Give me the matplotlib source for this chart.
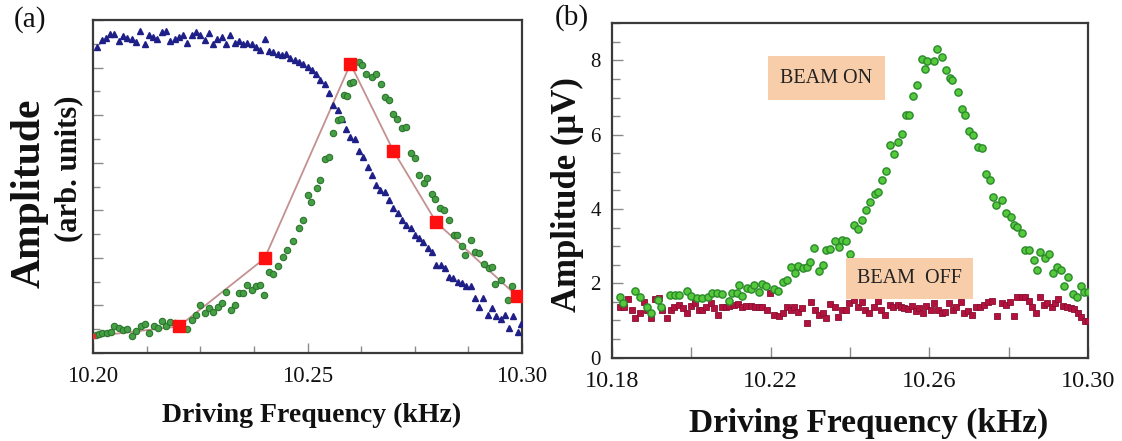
import matplotlib
matplotlib.use('Agg')
import matplotlib.pyplot as plt
from matplotlib.ticker import FixedLocator, FixedFormatter, MultipleLocator

plt.rcParams['font.family'] = ['Liberation Serif', 'DejaVu Serif']

# ---------------- Panel (a) data ----------------
a_blue_x = [10.201, 10.202, 10.203, 10.204, 10.205, 10.206, 10.207, 10.208, 10.209, 10.210,
            10.211, 10.212, 10.213, 10.214, 10.215, 10.216, 10.217, 10.218, 10.219, 10.220,
            10.221, 10.222, 10.223, 10.224, 10.225, 10.226, 10.227, 10.228, 10.229, 10.230,
            10.231, 10.232, 10.233, 10.234, 10.235, 10.236, 10.237, 10.238, 10.239, 10.240,
            10.241, 10.242, 10.243, 10.244, 10.245, 10.246, 10.247, 10.248, 10.249, 10.250,
            10.251, 10.252, 10.253, 10.254, 10.255, 10.256, 10.257, 10.258, 10.259, 10.260,
            10.261, 10.262, 10.263, 10.264, 10.265, 10.266, 10.267, 10.268, 10.269, 10.270,
            10.271, 10.272, 10.273, 10.274, 10.275, 10.276, 10.277, 10.278, 10.279, 10.280,
            10.281, 10.282, 10.283, 10.284, 10.285, 10.286, 10.287, 10.288, 10.289, 10.290,
            10.291, 10.292, 10.293, 10.294, 10.295, 10.296, 10.297, 10.298, 10.299, 10.2998]
a_blue_y = [6.43, 6.59, 6.63, 6.71, 6.71, 6.57, 6.66, 6.63, 6.61, 6.54,
            6.78, 6.50, 6.68, 6.64, 6.61, 6.75, 6.78, 6.57, 6.61, 6.64,
            6.68, 6.52, 6.68, 6.75, 6.68, 6.59, 6.73, 6.50, 6.61, 6.64,
            6.50, 6.68, 6.52, 6.57, 6.50, 6.52, 6.49, 6.43, 6.38, 6.61,
            6.36, 6.33, 6.29, 6.27, 6.29, 6.21, 6.15, 6.12, 6.08, 6.01,
            5.94, 5.86, 5.75, 5.65, 5.47, 5.21, 5.10, 4.93, 4.72, 4.55,
            4.51, 4.25, 4.13, 3.92, 3.74, 3.53, 3.43, 3.39, 3.22, 3.04,
            2.94, 2.80, 2.69, 2.62, 2.48, 2.41, 2.34, 2.20, 2.13, 1.85,
            1.85, 1.78, 1.59, 1.57, 1.50, 1.47, 1.40, 1.40, 1.15, 0.97,
            1.15, 0.80, 0.94, 0.77, 0.71, 0.80, 0.52, 0.77, 0.45, 0.62]

a_green_x = [10.2006, 10.2014, 10.2022, 10.2033, 10.2043, 10.2050, 10.2060, 10.2070, 10.2079, 10.2092,
             10.2101, 10.2113, 10.2120, 10.2130, 10.2141, 10.2151, 10.2161, 10.2171, 10.2180, 10.2190,
             10.2219, 10.2231, 10.2240, 10.2250, 10.2260, 10.2271, 10.2279, 10.2291, 10.2301, 10.2310,
             10.2322, 10.2330, 10.2341, 10.2350, 10.2360, 10.2371, 10.2380, 10.2389, 10.2399, 10.2411,
             10.2420, 10.2430, 10.2442, 10.2451, 10.2465, 10.2479, 10.2490, 10.2500, 10.2509, 10.2521,
             10.2529, 10.2541, 10.2550, 10.2560, 10.2570, 10.2578, 10.2585, 10.2591, 10.2598, 10.2606,
             10.2619, 10.2626, 10.2637, 10.2650, 10.2659, 10.2671, 10.2681, 10.2690, 10.2700, 10.2709,
             10.2719, 10.2729, 10.2740, 10.2750, 10.2760, 10.2771, 10.2779, 10.2789, 10.2798, 10.2808,
             10.2819, 10.2829, 10.2841, 10.2849, 10.2860, 10.2868, 10.2880, 10.2890, 10.2899, 10.2911,
             10.2922, 10.2930, 10.2938, 10.2950, 10.2967, 10.2977]
a_green_y = [0.38, 0.40, 0.42, 0.43, 0.44, 0.56, 0.52, 0.49, 0.50, 0.36,
             0.47, 0.56, 0.61, 0.43, 0.57, 0.52, 0.68, 0.57, 0.66, 0.64,
             0.50, 0.70, 0.80, 1.01, 0.85, 0.94, 0.87, 0.96, 1.05, 1.29,
             0.91, 1.01, 1.26, 1.26, 1.43, 1.33, 1.40, 1.43, 1.22, 1.71,
             1.66, 1.82, 2.01, 2.17, 2.36, 2.62, 2.80, 3.32, 3.18, 3.46,
             3.64, 4.07, 4.13, 4.62, 4.90, 4.93, 5.42, 5.40, 5.68, 5.70,
             6.12, 6.05, 5.87, 5.80, 5.87, 5.66, 5.38, 5.31, 5.03, 4.93,
             4.74, 4.76, 4.21, 4.11, 3.74, 3.57, 3.69, 3.34, 3.23, 3.04,
             3.01, 2.80, 2.48, 2.48, 2.25, 2.06, 2.38, 2.13, 2.10, 1.87,
             1.78, 1.80, 1.45, 1.54, 1.12, 1.41]

a_red_x = [10.200, 10.220, 10.240, 10.260, 10.270, 10.280, 10.2988]
a_red_y = [0.35, 0.56, 1.99, 6.08, 4.25, 2.75, 1.20]

# ---------------- Panel (b) data ----------------
b_on_x = [10.1819, 10.1827, 10.1859, 10.1870, 10.1887, 10.1897, 10.1916, 10.1923, 10.1947, 10.1959,
          10.1970, 10.1990, 10.2000, 10.2013, 10.2026, 10.2041, 10.2051, 10.2064, 10.2077, 10.2094,
          10.2103, 10.2115, 10.2120, 10.2128, 10.2141, 10.2150, 10.2158, 10.2171, 10.2179, 10.2188,
          10.2209, 10.2218, 10.2231, 10.2241, 10.2250, 10.2261, 10.2269, 10.2282, 10.2291, 10.2299,
          10.2309, 10.2321, 10.2332, 10.2340, 10.2350, 10.2361, 10.2372, 10.2380, 10.2389, 10.2400,
          10.2409, 10.2419, 10.2429, 10.2440, 10.2451, 10.2463, 10.2470, 10.2481, 10.2491, 10.2500,
          10.2511, 10.2520, 10.2532, 10.2540, 10.2549, 10.2560, 10.2570, 10.2581, 10.2590, 10.2594,
          10.2611, 10.2620, 10.2631, 10.2641, 10.2651, 10.2658, 10.2671, 10.2682, 10.2691, 10.2701,
          10.2709, 10.2722, 10.2733, 10.2742, 10.2752, 10.2761, 10.2769, 10.2782, 10.2793, 10.2805,
          10.2814, 10.2822, 10.2833, 10.2842, 10.2850, 10.2863, 10.2872, 10.2880, 10.2891, 10.2902,
          10.2913, 10.2923, 10.2932, 10.2940, 10.2949, 10.2962, 10.2973, 10.2983, 10.2991, 10.3000]
b_on_y = [1.64, 1.48, 1.80, 1.64, 1.37, 1.21, 1.55, 1.35, 1.68, 1.68,
          1.68, 1.80, 1.66, 1.59, 1.59, 1.62, 1.75, 1.73, 1.71, 1.52,
          1.73, 1.75, 1.95, 1.66, 1.86, 1.84, 1.95, 1.77, 1.98, 1.93,
          1.84, 1.80, 2.04, 2.10, 2.44, 2.28, 2.46, 2.40, 2.44, 2.58,
          2.94, 2.34, 2.50, 2.89, 2.91, 3.13, 2.98, 3.16, 3.14, 2.78,
          3.56, 3.47, 3.70, 3.97, 4.19, 4.41, 4.46, 4.77, 5.02, 5.71,
          5.49, 5.80, 6.03, 6.52, 6.52, 7.05, 7.35, 8.04, 7.77, 7.99,
          7.98, 8.31, 8.08, 7.74, 7.53, 7.48, 7.14, 6.70, 6.52, 6.11,
          5.98, 5.68, 5.65, 4.93, 4.77, 4.32, 4.10, 4.23, 3.88, 3.79,
          3.56, 3.52, 3.34, 2.89, 2.89, 2.62, 2.37, 2.85, 2.67, 2.78,
          2.28, 2.43, 2.37, 1.92, 2.18, 1.71, 1.64, 1.92, 1.77, 1.77]

b_off_x = [10.1819, 10.1829, 10.1839, 10.1850, 10.1859, 10.1870, 10.1880, 10.1889, 10.1897, 10.1908,
           10.1919, 10.1927, 10.1938, 10.1949, 10.1957, 10.1968, 10.1979, 10.1990, 10.2000, 10.2010,
           10.2019, 10.2027, 10.2038, 10.2050, 10.2058, 10.2068, 10.2077, 10.2087, 10.2096, 10.2107,
           10.2118, 10.2128, 10.2138, 10.2150, 10.2161, 10.2171, 10.2179, 10.2190, 10.2198, 10.2209,
           10.2221, 10.2231, 10.2241, 10.2250, 10.2258, 10.2269, 10.2280, 10.2291, 10.2301, 10.2312,
           10.2321, 10.2332, 10.2340, 10.2350, 10.2361, 10.2369, 10.2380, 10.2389, 10.2397, 10.2409,
           10.2419, 10.2429, 10.2438, 10.2449, 10.2460, 10.2470, 10.2479, 10.2489, 10.2500, 10.2509,
           10.2520, 10.2528, 10.2537, 10.2545, 10.2556, 10.2566, 10.2574, 10.2583, 10.2591, 10.2603,
           10.2611, 10.2622, 10.2631, 10.2639, 10.2650, 10.2660, 10.2668, 10.2679, 10.2688, 10.2697,
           10.2708, 10.2718, 10.2728, 10.2739, 10.2748, 10.2759, 10.2771, 10.2782, 10.2793, 10.2803,
           10.2814, 10.2822, 10.2833, 10.2842, 10.2850, 10.2859, 10.2870, 10.2879, 10.2889, 10.2897,
           10.2908, 10.2916, 10.2925, 10.2936, 10.2947, 10.2956, 10.2964, 10.2974, 10.2983, 10.2993,
           10.3000]
b_off_y = [1.37, 1.37, 1.57, 1.28, 1.06, 1.21, 1.50, 1.28, 1.06, 1.57,
           1.59, 1.28, 1.06, 1.28, 1.37, 1.41, 1.32, 1.19, 1.39, 1.46,
           1.28, 1.28, 1.35, 1.46, 1.32, 1.15, 1.35, 1.37, 1.39, 1.41,
           1.44, 1.37, 1.39, 1.39, 1.37, 1.35, 1.37, 1.28, 1.73, 1.15,
           1.12, 1.21, 1.37, 1.28, 1.37, 1.23, 1.32, 0.92, 1.50, 1.28,
           1.15, 1.21, 1.06, 1.44, 1.35, 1.10, 1.28, 1.28, 1.48, 1.55,
           1.37, 1.50, 1.28, 1.19, 1.35, 1.53, 1.28, 1.15, 1.41, 1.35,
           1.41, 1.35, 1.32, 1.30, 1.39, 1.26, 1.32, 1.19, 1.39, 1.28,
           1.46, 1.28, 1.19, 1.23, 1.48, 1.28, 1.37, 1.50, 1.19, 1.26,
           1.15, 1.35, 1.37, 1.41, 1.50, 1.53, 1.12, 1.46, 1.41, 1.50,
           1.12, 1.62, 1.64, 1.64, 1.53, 1.35, 1.21, 1.64, 1.41, 1.46,
           1.35, 1.48, 1.57, 1.39, 1.35, 1.32, 1.30, 1.19, 1.10, 0.99,
           0.99]

a_xticks = [10.20, 10.25, 10.30]
a_xticklabels = ['10.20', '10.25', '10.30']
b_xticks = [10.18, 10.20, 10.22, 10.24, 10.26, 10.28, 10.30]
b_xticklabels = ['10.18', '', '10.22', '', '10.26', '', '10.30']
b_yticks = [0, 2, 4, 6, 8]

spine_c = '#3a3a3a'
tick_c = '#8a8a8a'

fig = plt.figure(figsize=(11.22, 4.41), dpi=100)

# ---------------- Panel (a) ----------------
axA = fig.add_axes([0.0829, 0.1995, 0.3824, 0.755])
axA.plot(a_red_x, a_red_y, color='#c49090', lw=1.3, zorder=2)
axA.plot(a_blue_x, a_blue_y, ls='none', marker='^', ms=3.8, color='#1f1f88', zorder=3)
axA.plot(a_green_x, a_green_y, ls='none', marker='o', ms=4.6, mfc='#45a045',
         mec='#2c742c', mew=0.8, zorder=3)
axA.plot(a_red_x[1:], a_red_y[1:], ls='none', marker='s', ms=9, color='#ff1010', zorder=4)
axA.plot(a_red_x[:1], a_red_y[:1], ls='none', marker='s', ms=3.5, color='#e03030', zorder=4)
axA.set_xlim(10.20, 10.30)
axA.set_ylim(0, 7)
axA.xaxis.set_major_locator(FixedLocator(a_xticks))
axA.xaxis.set_major_formatter(FixedFormatter(a_xticklabels))
axA.xaxis.set_minor_locator(MultipleLocator(0.0125))
axA.yaxis.set_major_locator(MultipleLocator(1))
axA.yaxis.set_minor_locator(MultipleLocator(0.5))
axA.set_yticklabels([])
axA.tick_params(which='both', direction='in', color=tick_c, width=1.0,
                top=False, right=False)
axA.tick_params(which='major', length=7)
axA.tick_params(which='minor', length=5)
axA.tick_params(axis='x', labelsize=16.5, pad=9, labelcolor='#111111')
for s in axA.spines.values():
    s.set_color(spine_c)
    s.set_linewidth(1.6)

# ---------------- Panel (b) ----------------
axB = fig.add_axes([0.5455, 0.1893, 0.4242, 0.7579])
axB.plot(b_off_x, b_off_y, ls='none', marker='s', ms=5.0, mfc='#b3123e',
         mec='#8a0f30', mew=0.6, zorder=3)
axB.plot(b_on_x, b_on_y, ls='none', marker='o', ms=5.2, mfc='#55c83c',
         mec='#2a8a2a', mew=1.0, zorder=4)
axB.set_xlim(10.18, 10.30)
axB.set_ylim(0, 9)
axB.xaxis.set_major_locator(FixedLocator(b_xticks))
axB.xaxis.set_major_formatter(FixedFormatter(b_xticklabels))
axB.yaxis.set_major_locator(FixedLocator(b_yticks))
axB.yaxis.set_minor_locator(MultipleLocator(0.5))
axB.tick_params(which='both', direction='in', color=tick_c, width=1.0,
                top=False, right=False)
axB.tick_params(which='major', length=8)
axB.tick_params(which='minor', length=6)
axB.tick_params(axis='x', labelsize=17.5, pad=10, labelcolor='#111111')
axB.tick_params(axis='y', labelsize=15, pad=8, labelcolor='#111111')
for s in axB.spines.values():
    s.set_color(spine_c)
    s.set_linewidth(1.6)

axB.text(10.234, 7.52, 'BEAM ON', ha='center', va='center', fontsize=14.5,
         color='#222222', zorder=5,
         bbox=dict(boxstyle='square,pad=0.62', fc='#f8cdaa', ec='none'))
axB.text(10.255, 2.13, 'BEAM  OFF', ha='center', va='center', fontsize=14.5,
         color='#222222', zorder=5,
         bbox=dict(boxstyle='square,pad=0.55', fc='#f8cdaa', ec='none'))

# ---------------- Labels ----------------
fig.text(0.2776, 0.058, 'Driving Frequency (kHz)', ha='center', va='center',
         fontsize=20, fontweight='bold', color='#111111')
fig.text(0.7745, 0.041, 'Driving Frequency (kHz)', ha='center', va='center',
         fontsize=24, fontweight='bold', color='#111111')

fig.text(0.026, 1 - 98 / 441, 'Amplitude', ha='center', va='top', rotation=90,
         fontsize=30, fontweight='bold', color='#111111')
fig.text(0.061, 1 - 96 / 441, '(arb. units)', ha='center', va='top', rotation=90,
         fontsize=22, fontweight='bold', color='#111111')
fig.text(0.5055, 1 - 195 / 441, 'Amplitude (\u03bcV)', ha='center', va='center',
         rotation=90, fontsize=25, fontweight='bold', color='#111111')

fig.text(0.027, 1 - 20 / 441, '(a)', ha='center', va='center', fontsize=21, color='#111111')
fig.text(0.510, 1 - 18 / 441, '(b)', ha='center', va='center', fontsize=21, color='#111111')

fig.savefig('out.png', dpi=100)
